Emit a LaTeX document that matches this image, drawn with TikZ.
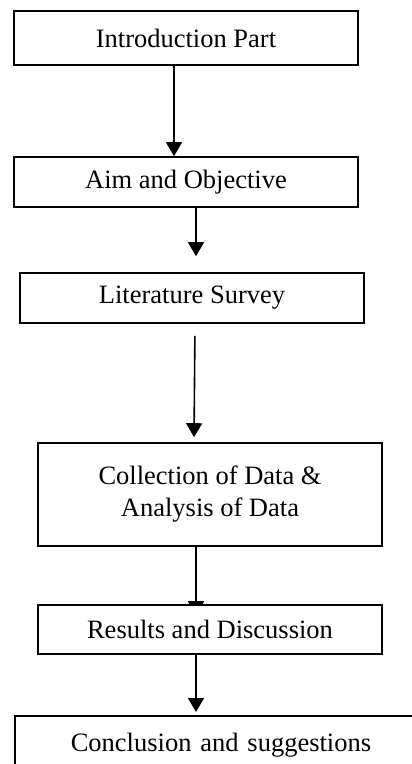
\documentclass[tikz,border=0pt]{standalone}
\usepackage{fontspec}
\setmainfont{Liberation Serif}
\usetikzlibrary{arrows.meta,backgrounds}

\begin{document}
\begin{tikzpicture}[x=1pt,y=-1pt,
    box/.style={draw, line width=1.6pt, fill=white, minimum width=344pt,
      align=center, inner sep=0pt, font=\fontsize{26.5}{32}\selectfont},
    arr/.style={line width=1.6pt, -{Triangle[width=16pt,length=14pt]}}]
        \useasboundingbox (0,0) rectangle (412,764);
        \clip (0,0) rectangle (412,764);
        % Draw the steps of the study
        \node[box, minimum height=54pt] (intro) at (186,38) {Introduction Part};
        \node[box, minimum height=50pt] (aim) at (186,182) {Aim and Objective};
        \node[box, minimum height=50pt] (litsurvey) at (192,298) {Literature Survey};
        \node[box, minimum height=103pt] (datacoll) at (210,494.5) {Collection of Data \&\\Analysis of Data};
        \node[box, minimum height=49pt] (results) at (210,629.5) {Results and Discussion};
        \node[box, anchor=north west, align=left, text width=340pt, inner xsep=56pt,
          inner ysep=17pt] (concl) at (14,715) {Conclusion and suggestions};
        % Draw the arrows between the steps
        \begin{scope}[on background layer]
        \draw[arr] ([xshift=-12pt]intro.south) -- ([xshift=-12pt]aim.north);
        \draw[arr, shorten >=16pt] ([xshift=10pt]aim.south) -- ([xshift=4pt]litsurvey.north);
        \draw[arr, shorten <=12pt, shorten >=5pt] ([xshift=3pt]litsurvey.south) -- ([xshift=-16pt]datacoll.north);
        \draw[arr, shorten >=-11pt] ([xshift=-14pt]datacoll.south) -- ([xshift=-14pt]results.north);
        \draw[arr, shorten >=3pt] ([xshift=-14pt]results.south) -- ([xshift=-14pt]results.south |- concl.north);
        \end{scope}
    \end{tikzpicture}
\end{document}
